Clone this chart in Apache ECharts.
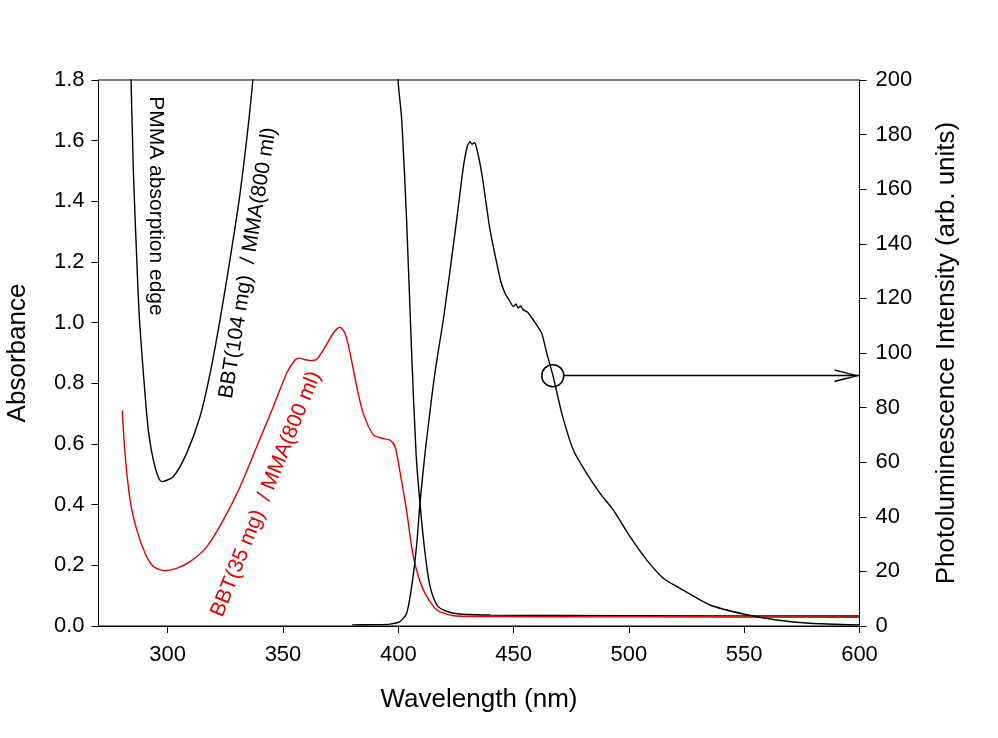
<!DOCTYPE html>
<html>
<head>
<meta charset="utf-8">
<script src="https://cdn.jsdelivr.net/npm/echarts@6/dist/echarts.min.js"></script>
<style>
  html, body { margin: 0; padding: 0; background: #fff; }
  #chart-container { width: 998px; height: 738px; }
</style>
</head>
<body>
<div id="chart-container"></div>
<script>
// absorbance, BBT(104 mg)/MMA - black curve (goes off the top between ~338 and ~400 nm)
const pmmaWl = [283.5, 285.1, 286.6, 287.6, 288.6, 289.6, 291.6, 294.5, 297.4, 302.4, 308.2, 314, 318.4, 322.7, 327, 331.4, 336.4, 340, 345, 395, 399.9, 401.5, 403.6, 405.8, 407.7, 409.4, 411.6, 413.8, 417.3, 423.9, 440, 500, 600];
const pmmaAbs = [2.0, 1.503, 1.207, 1.03, 0.92, 0.82, 0.646, 0.525, 0.476, 0.492, 0.569, 0.69, 0.833, 1.009, 1.207, 1.427, 1.756, 2.1, 2.6, 2.6, 1.8, 1.668, 1.339, 0.899, 0.57, 0.405, 0.24, 0.13, 0.064, 0.042, 0.036, 0.034, 0.033];

// absorbance, BBT(35 mg)/MMA - red curve
const bbtWl = [280.3, 281.5, 283.7, 286.6, 290.2, 293.8, 298.8, 303.9, 309.7, 316.9, 324.1, 331.4, 338.6, 345.8, 351.6, 355.2, 357.1, 359.5, 361.7, 364.6, 367.5, 371.8, 374.7, 376.9, 379.1, 382, 384.8, 389.2, 392.8, 396.4, 398.6, 400.7, 403.6, 406.5, 410.8, 416.7, 423.9, 440, 500, 600];
const bbtAbs = [0.71, 0.569, 0.415, 0.317, 0.24, 0.196, 0.182, 0.19, 0.212, 0.261, 0.349, 0.459, 0.591, 0.723, 0.833, 0.877, 0.883, 0.878, 0.875, 0.879, 0.91, 0.965, 0.985, 0.965, 0.899, 0.789, 0.701, 0.63, 0.619, 0.613, 0.591, 0.51, 0.38, 0.23, 0.12, 0.053, 0.034, 0.031, 0.030, 0.029];

// photoluminescence (right axis)
const plWl = [380, 390, 396.4, 400.7, 403.6, 405.8, 408, 409.4, 411.6, 413.8, 415.6, 417.4, 419.5, 422.4, 425.3, 428.2, 430, 431.1, 432, 433, 434, 436.2, 439.8, 442.7, 444.5, 446.3, 448, 449.9, 451, 452, 453, 454.2, 456, 458.6, 462.2, 464.4, 467.2, 470.9, 475.9, 481.7, 487.5, 493.2, 500.5, 507.7, 514.9, 522.2, 535.2, 549.6, 564.1, 578.5, 600];
const plInt = [0.4, 0.5, 0.7, 1.6, 4.6, 14.4, 30, 45, 63.3, 79, 91, 101, 112, 130, 148.7, 168, 176, 177.4, 176.5, 177, 175, 165.8, 145, 132.9, 126, 121.9, 119.5, 117, 118, 116.5, 117.2, 115.8, 115, 112, 107.2, 99.9, 91.3, 77.9, 64.5, 55.9, 48.6, 42.5, 32.7, 24.2, 17.5, 13.8, 7.7, 4.4, 2.2, 1.0, 0.4];

// tick labels
const xTicks = [300, 350, 400, 450, 500, 550, 600];

// the circle + arrow pointing to the right axis
const markerAt = [467, 91.7];
const arrowFrom = [471.7, 91.7];
const arrowTo = [600, 91.7];
const arrowHeadAt = [594.6, 91.7];

const FONT = 'Arial, "Liberation Sans", Helvetica, sans-serif';

function pairs(xs, ys) {
    return xs.map((x, i) => [x, ys[i]]);
}

const myChart = echarts.init(document.getElementById('chart-container'), null, { renderer: 'canvas' });

const option = {
    animation: false,
    backgroundColor: '#fff',
    grid: {
        left: 98.5,
        right: 138.5,
        top: 80,
        bottom: 112,
        outerBoundsMode: 'none',
        containLabel: false,
        show: true,
        borderColor: '#000',
        borderWidth: 1,
    },
    xAxis: {
        type: 'value',
        min: 270,
        max: 600,
        name: 'Wavelength (nm)',
        nameLocation: 'middle',
        nameGap: 61,
        nameTextStyle: { color: '#000', fontSize: 26, fontFamily: FONT },
        axisLine: { show: true, lineStyle: { color: '#000', width: 1 } },
        axisTick: { show: true, length: 7, customValues: xTicks, lineStyle: { color: '#000' } },
        axisLabel: { customValues: xTicks, color: '#000', fontSize: 22, fontFamily: FONT, margin: 18 },
        splitLine: { show: false },
    },
    yAxis: [
        {
            type: 'value',
            min: 0,
            max: 1.8,
            interval: 0.2,
            name: 'Absorbance',
            nameLocation: 'middle',
            nameRotate: 90,
            nameGap: 68,
            nameTextStyle: { color: '#000', fontSize: 26, fontFamily: FONT },
            axisLine: { show: true, lineStyle: { color: '#000', width: 1 } },
            axisTick: { show: true, length: 7, lineStyle: { color: '#000' } },
            axisLabel: {
                color: '#000', fontSize: 22, fontFamily: FONT, margin: 14,
                formatter: v => v.toFixed(1),
            },
            splitLine: { show: false },
        },
        {
            type: 'value',
            position: 'right',
            min: 0,
            max: 200,
            interval: 20,
            name: 'Photoluminescence Intensity (arb. units)',
            nameLocation: 'middle',
            nameRotate: 90,
            nameGap: 74,
            nameTextStyle: { color: '#000', fontSize: 26, fontFamily: FONT },
            axisLine: { show: true, lineStyle: { color: '#000', width: 1 } },
            axisTick: { show: true, length: 7, lineStyle: { color: '#000' } },
            axisLabel: { color: '#000', fontSize: 22, fontFamily: FONT, margin: 16 },
            splitLine: { show: false },
        },
    ],
    series: [
        {
            name: 'BBT(104 mg) / MMA',
            type: 'line',
            yAxisIndex: 0,
            data: pairs(pmmaWl, pmmaAbs),
            showSymbol: false,
            smooth: 0.25,
            lineStyle: { color: '#000', width: 1.4 },
            itemStyle: { color: '#000' },
        },
        {
            name: 'BBT(35 mg) / MMA',
            type: 'line',
            yAxisIndex: 0,
            data: pairs(bbtWl, bbtAbs),
            showSymbol: false,
            smooth: 0.25,
            lineStyle: { color: '#e00000', width: 1.4 },
            itemStyle: { color: '#e00000' },
        },
        {
            name: 'PL',
            type: 'line',
            yAxisIndex: 1,
            data: pairs(plWl, plInt),
            showSymbol: false,
            smooth: 0.2,
            lineStyle: { color: '#000', width: 1.4 },
            itemStyle: { color: '#000' },
            markLine: {
                silent: true,
                symbol: ['none', 'none'],
                label: { show: false },
                lineStyle: { color: '#000', width: 1.4, type: 'solid' },
                data: [[{ coord: arrowFrom }, { coord: arrowTo }]],
            },
            markPoint: {
                silent: true,
                label: { show: false },
                data: [
                    {
                        coord: markerAt,
                        symbol: 'circle',
                        symbolSize: 22,
                        itemStyle: { color: 'rgba(0,0,0,0)', borderColor: '#000', borderWidth: 1.5 },
                    },
                    {
                        coord: arrowHeadAt,
                        symbol: 'path://M0,30L10,0L20,30L17.5,30L10,6L2.5,30Z',
                        symbolSize: [13, 25],
                        symbolRotate: -90,
                        itemStyle: { color: '#000' },
                    },
                ],
            },
        },
    ],
    graphic: [
        {
            type: 'text',
            x: 155.5,
            y: 206,
            rotation: -Math.PI / 2,
            style: { text: 'PMMA absorption edge', fill: '#000', font: '21px ' + FONT, align: 'center', verticalAlign: 'middle' },
        },
        {
            type: 'text',
            x: 248,
            y: 263,
            rotation: 80.8 * Math.PI / 180,
            style: { text: 'BBT(104 mg)  / MMA(800 ml)', fill: '#000', font: '21px ' + FONT, align: 'center', verticalAlign: 'middle' },
        },
        {
            type: 'text',
            x: 266,
            y: 494,
            rotation: 68 * Math.PI / 180,
            style: { text: 'BBT(35 mg)  / MMA(800 ml)', fill: '#e00000', font: '21px ' + FONT, align: 'center', verticalAlign: 'middle' },
        },
    ],
};

myChart.setOption(option);
</script>
</body>
</html>
